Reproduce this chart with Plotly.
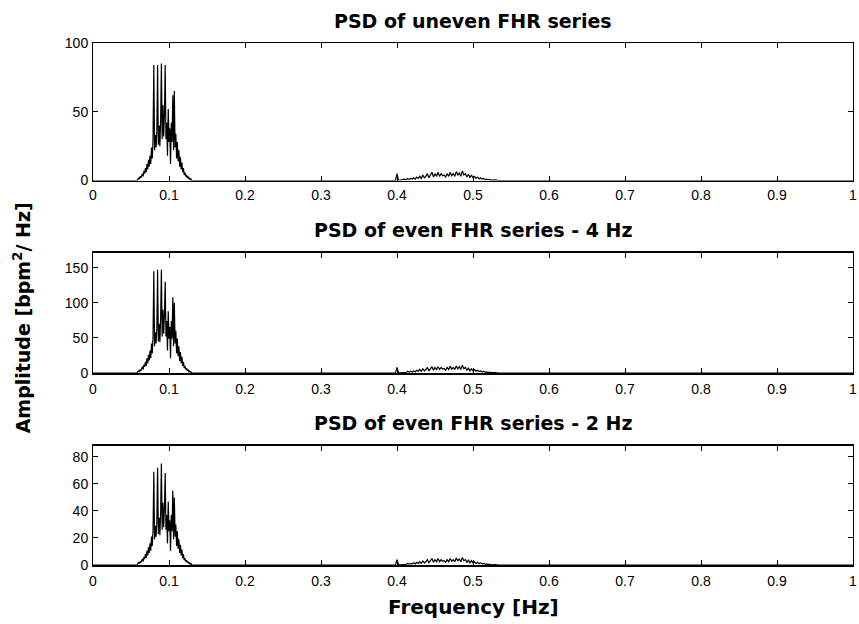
import plotly.graph_objects as go

# ---------------- data ----------------
FREQ_RANGE = [0.0, 1.0]
LOW_START, LOW_STEP = 0.058, 0.001     # low-frequency band grid (Hz)
HIGH_START, HIGH_STEP = 0.398, 0.002   # high-frequency band grid (Hz)

TITLES = ["PSD of uneven FHR series",
          "PSD of even FHR series - 4 Hz",
          "PSD of even FHR series - 2 Hz"]

X_TICKS = [0, 0.1, 0.2, 0.3, 0.4, 0.5, 0.6, 0.7, 0.8, 0.9, 1]
X_TICK_LABELS = ["0", "0.1", "0.2", "0.3", "0.4", "0.5", "0.6", "0.7", "0.8", "0.9", "1"]

Y_TICKS = [[0, 50, 100], [0, 50, 100, 150], [0, 20, 40, 60, 80]]
Y_RANGES = [[0, 100], [0, 171], [0, 88]]

# uneven series
uneven_low = [0, 1, 2, 1, 3, 2, 4, 5, 3, 7, 5, 9, 6, 12, 8, 15, 10, 18, 12, 24, 16, 30,
              84, 22, 33, 24, 36, 84, 26, 40, 25, 44, 85, 30, 55, 32, 48, 84, 30, 42, 18, 52,
              28, 38, 12, 42, 28, 62, 22, 65, 24, 34, 16, 28, 14, 22, 10, 17, 8, 13, 6, 9,
              4, 6, 3, 4, 2, 3, 1, 2, 0.5, 1, 0]
uneven_high = [0, 5, 0.3, 0.2, 0.3, 0.5, 1, 0.5, 1.5, 0.8, 1.5, 1, 2, 1, 2.5, 1.5, 3, 1.5, 4, 2, 3,
               5, 2, 4, 6, 2.5, 5, 3, 6, 3, 5, 3.5, 4, 2.5, 5, 3, 6, 3.5, 5, 3, 6.5,
               4, 5.5, 3, 7, 4, 5, 2.5, 4.5, 2, 4, 2, 3, 1.5, 2.5, 1.2, 2, 1, 1.5, 0.6, 1,
               0.4, 0.8, 0.3, 0.5, 0.2, 0.4, 0.1, 0.2, 0]

# even series resampled at 4 Hz
even4_low = [0, 2, 3, 2, 5, 3, 7, 9, 5, 12, 9, 16, 10, 21, 14, 26, 18, 32, 21, 42, 28, 52,
             145, 38, 58, 42, 63, 147, 45, 70, 44, 77, 147, 52, 90, 56, 84, 130, 52, 74, 32, 88,
             49, 66, 21, 74, 49, 108, 38, 100, 42, 60, 28, 49, 24, 38, 17, 30, 14, 23, 10, 16,
             7, 10, 5, 7, 3.5, 5, 2, 3, 1, 1.5, 0]
even4_high = [0, 8, 0.5, 0.3, 0.5, 0.8, 1.5, 0.8, 2.5, 1.2, 2.5, 1.5, 3, 1.5, 4, 2.5, 5, 2.5, 6, 3, 5,
              8, 3, 6, 9, 4, 8, 5, 9, 5, 8, 5.5, 6.5, 4, 8, 5, 9.5, 5.5, 8, 5, 10,
              6, 9, 5, 11, 6, 8, 4, 7, 3, 6, 3, 5, 2.5, 4, 2, 3, 1.5, 2.5, 1, 1.5,
              0.6, 1.2, 0.5, 0.8, 0.3, 0.6, 0.2, 0.3, 0]

# even series resampled at 2 Hz
even2_low = [0, 1, 1.8, 1, 2.6, 1.8, 3.5, 4.4, 2.6, 6, 4.4, 8, 5.3, 10.5, 7, 13, 9, 16, 10.5, 21, 14, 26,
             69, 19, 29, 21, 32, 72, 23, 35, 22, 39, 75, 26, 46, 28, 42, 68, 26, 37, 16, 47,
             25, 33, 10.5, 37, 25, 55, 19, 50, 21, 30, 14, 25, 12, 19, 9, 15, 7, 11.5, 5, 8,
             3.5, 5, 2.6, 3.5, 1.8, 2.6, 1, 1.8, 0.5, 1, 0]
even2_high = [0, 4, 0.3, 0.2, 0.3, 0.4, 0.8, 0.4, 1.2, 0.6, 1.2, 0.8, 1.6, 0.8, 2, 1.2, 2.4, 1.2, 3, 1.6, 2.4,
              4, 1.6, 3.2, 4.8, 2, 4, 2.4, 4.8, 2.4, 4, 2.8, 3.2, 2, 4, 2.4, 4.8, 2.8, 4, 2.4, 5.2,
              3.2, 4.4, 2.4, 5.6, 3.2, 4, 2, 3.6, 1.6, 3.2, 1.6, 2.4, 1.2, 2, 1, 1.6,
              0.8, 1.2, 0.5, 0.8, 0.3, 0.6, 0.2, 0.4, 0.2, 0.3, 0.1, 0.2, 0]

SERIES = [(uneven_low, uneven_high), (even4_low, even4_high), (even2_low, even2_high)]

# ---------------- layout geometry ----------------
W, H = 859, 624
ML, MR, MT, MB = 93, 2, 43, 59
PH = H - MT - MB
# subplot pixel extents (top, bottom)
PANELS = [(43, 180.5), (253, 373), (446, 565)]
TITLE_Y = [21, 230, 423]


def py(pix):
    return (H - MB - pix) / PH


def px(pix):
    return (pix - ML) / (W - ML - MR)


def band(start, step, vals):
    return [round(start + step * i, 4) for i in range(len(vals))]


fig = go.Figure()
tick_font = dict(family="Liberation Sans, Arial, sans-serif", size=14, color="#000")
label_font = dict(family="DejaVu Sans, sans-serif", size=19, color="#000")

for k, (low, high) in enumerate(SERIES):
    xs = [FREQ_RANGE[0]] + band(LOW_START, LOW_STEP, low) + band(HIGH_START, HIGH_STEP, high) + [FREQ_RANGE[1]]
    ys = [0] + low + high + [0]
    sfx = "" if k == 0 else str(k + 1)
    fig.add_trace(go.Scatter(x=xs, y=ys, mode="lines",
                             line=dict(color="black", width=1.2),
                             xaxis="x" + sfx, yaxis="y" + sfx,
                             showlegend=False, hoverinfo="x+y"))
    top, bot = PANELS[k]
    fig.layout["xaxis" + sfx] = dict(
        domain=[0, 1], range=FREQ_RANGE, anchor="y" + sfx,
        tickvals=X_TICKS, ticktext=X_TICK_LABELS,
        ticks="inside", ticklen=5, tickcolor="#000", tickwidth=1,
        showline=True, linecolor="#000", linewidth=1 if k == 0 else 2, mirror="ticks",
        showgrid=False, zeroline=False, tickfont=tick_font, ticklabelstandoff=2,
        ticklabeloverflow="allow")
    fig.layout["yaxis" + sfx] = dict(
        domain=[py(bot), py(top)], range=Y_RANGES[k], anchor="x" + sfx,
        tickvals=Y_TICKS[k],
        ticks="inside", ticklen=5, tickcolor="#000", tickwidth=1,
        showline=True, linecolor="#000", linewidth=1, mirror="ticks",
        showgrid=False, zeroline=False, tickfont=tick_font, ticklabelstandoff=1)
    fig.add_annotation(text="<b>" + TITLES[k] + "</b>", xref="paper", yref="paper",
                       x=0.5, y=py(TITLE_Y[k]), xanchor="center", yanchor="middle",
                       showarrow=False, font=label_font)

fig.add_annotation(text="<b>Frequency [Hz]</b>", xref="paper", yref="paper",
                   x=0.5, y=py(607), xanchor="center", yanchor="middle", showarrow=False,
                   font=dict(family="DejaVu Sans, sans-serif", size=20, color="#000"))
fig.add_annotation(text="<b>Amplitude [bpm<sup>2</sup>/ Hz]</b>", xref="paper", yref="paper",
                   x=px(22), y=py(318), xanchor="center", yanchor="middle", textangle=-90,
                   showarrow=False, font=label_font)

fig.update_layout(width=W, height=H, margin=dict(l=ML, r=MR, t=MT, b=MB),
                  paper_bgcolor="white", plot_bgcolor="white")

fig.write_html("out.html", config={"displayModeBar": False})

# remove the browser's default page margin so the figure sits at the window's top-left corner
with open("out.html", "r", encoding="utf-8") as f:
    html = f.read()
html = html.replace("<head>", "<head><style>html,body{margin:0;padding:0;}</style>", 1)
with open("out.html", "w", encoding="utf-8") as f:
    f.write(html)
